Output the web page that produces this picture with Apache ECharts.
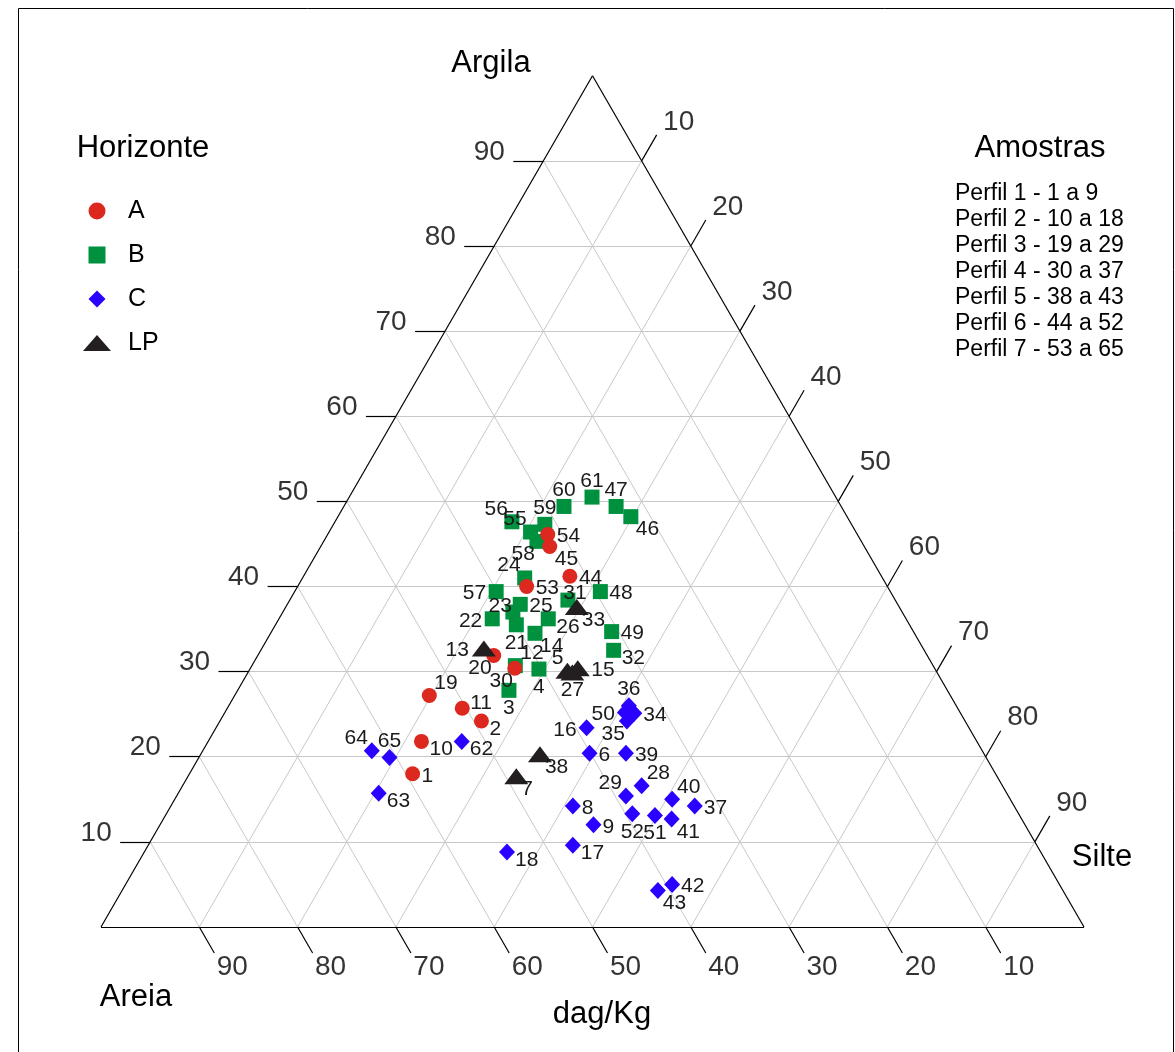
<!DOCTYPE html>
<html>
<head>
<meta charset="utf-8">
<title>Diagrama ternario</title>
<script src="https://cdn.jsdelivr.net/npm/echarts@6/dist/echarts.min.js"></script>
<style>
  html, body { margin: 0; padding: 0; background: #fff; }
  #main { width: 1175px; height: 1052px; }
</style>
</head>
<body>
<div id="main"></div>
<script>
var chartDom = document.getElementById('main');
var myChart = echarts.init(chartDom);

// Amostras (1 a 65) e horizonte de cada uma
var amostras = [];
for (var n = 1; n <= 65; n++) amostras.push(n);
var horizonte = ['A','A','B','B','LP','C','LP','C','C','A',
  'A','B','LP','B','LP','C','C','C','A','A',
  'B','B','B','B','B','B','LP','C','C','A',
  'B','B','LP','C','C','C','C','LP','C','C',
  'C','C','C','A','A','B','B','B','B','C',
  'C','C','A','A','B','B','B','B','B','B',
  'B','C','C','C','C'];

// Granulometria (dag/Kg)
var areia = [59.3,49.2,44.6,40.3,37.5,40.1,48.9,44.9,43.9,56.5,
  50.4,42.5,44.7,38.6,36.3,38.9,47.2,54.3,53.0,44.1,
  40.0,42.1,39.6,36.4,38.4,36.4,37.1,36.7,38.9,42.7,
  33.3,31.6,32.8,33.2,34.4,33.3,32.5,45.2,36.4,34.4,
  35.6,39.4,41.2,31.7,32.0,22.0,22.9,29.5,30.7,34.1,
  37.1,39.3,36.7,31.5,33.1,34.4,40.1,33.0,31.2,28.2,
  24.8,52.4,63.9,62.1,60.7];
var silte = [22.7,26.6,27.6,29.4,32.4,39.5,33.4,40.9,44.1,21.7,
  23.9,26.8,22.6,26.9,33.3,37.7,43.2,36.9,19.8,24.0,
  24.5,21.7,23.4,22.6,23.7,27.4,33.0,46.7,45.7,26.9,
  28.3,35.9,29.6,41.7,41.4,40.7,53.3,34.5,43.2,50.6,
  51.7,55.6,54.5,27.1,23.3,29.8,27.7,31.1,34.6,40.7,
  49.8,47.4,23.3,22.4,20.5,18.0,20.5,21.7,21.5,22.4,
  24.7,25.8,20.4,17.2,19.4];
var argila = [18.0,24.2,27.8,30.3,30.1,20.4,17.7,14.2,12.0,21.8,
  25.7,30.7,32.7,34.5,30.4,23.4,9.6,8.8,27.2,31.9,
  35.5,36.2,37.0,41.0,37.9,36.2,29.9,16.6,15.4,30.4,
  38.4,32.5,37.6,25.1,24.2,26.0,14.2,20.3,20.4,15.0,
  12.7,5.0,4.3,41.2,44.7,48.2,49.4,39.4,34.7,25.2,
  13.1,13.3,40.0,46.1,46.4,47.6,39.4,45.3,47.3,49.4,
  50.5,21.8,15.7,20.7,19.9];

// lado do numero de cada amostra
var rotulo = ['r','rb','b','b','tl','r','br','r','r','rb',
  'rt','tr','l','br','r','l','rb','rb','tr','bl',
  'b','l','lt','tl','r','rb','b','tr','tl','bl',
  'c','rb','br','r','bl','t','r','br','r','tr',
  'br','r','br','r','br','br','t','r','r','l',
  'b','b','r','r','tl','tl','l','bl','t','t',
  't','rb','rb','tl','t'];

var horizontes = ['A', 'B', 'C', 'LP'];
var marcas = [10, 20, 30, 40, 50, 60, 70, 80, 90];
var perfis = ['Perfil 1 - 1 a 9', 'Perfil 2 - 10 a 18', 'Perfil 3 - 19 a 29',
  'Perfil 4 - 30 a 37', 'Perfil 5 - 38 a 43', 'Perfil 6 - 44 a 52', 'Perfil 7 - 53 a 65'];

var fonte = '"Liberation Sans", Arial, sans-serif';
var R3 = Math.sqrt(3) / 2;
var escala = 9.83; // px por unidade

function ternario(a, s, c) {
  var t = a + s + c;
  return [(s + c / 2) * 100 / t, c * R3 * 100 / t];
}

var deslocamentos = {
  r:  { align: 'left',   d: [9, 2] },
  rb: { align: 'left',   d: [8, 8] },
  rt: { align: 'left',   d: [8, -5] },
  l:  { align: 'right',  d: [-10, 2] },
  lt: { align: 'right',  d: [-1, -6] },
  c:  { align: 'center', d: [7, -7] },
  t:  { align: 'center', d: [0, -16] },
  b:  { align: 'center', d: [0, 18] },
  tr: { align: 'left',   d: [5, -12] },
  tl: { align: 'right',  d: [-4, -13] },
  br: { align: 'left',   d: [5, 13] },
  bl: { align: 'right',  d: [-2, 13] }
};

var estilo = {
  A:  { symbol: 'circle',   size: 15,       color: '#dc281e' },
  B:  { symbol: 'rect',     size: 15,       color: '#00913f' },
  C:  { symbol: 'diamond',  size: [16, 17], color: '#2a00ff' },
  LP: { symbol: 'triangle', size: [24, 16], color: '#231f20' }
};

// linhas da grade, contorno e tracos
var grade = [], contorno = [], tracos = [], textosEixo = [];
var L = 30 / escala;
marcas.forEach(function (k) {
  grade.push({ coords: [ternario(100 - k, 0, k), ternario(0, 100 - k, k)] });
  grade.push({ coords: [ternario(100 - k, k, 0), ternario(0, k, 100 - k)] });
  grade.push({ coords: [ternario(k, 100 - k, 0), ternario(k, 0, 100 - k)] });

  var p = ternario(100 - k, 0, k);
  var e = [p[0] - L, p[1]];
  tracos.push({ coords: [p, e] });
  textosEixo.push({ value: e, label: { formatter: String(k), offset: [-24, -9] } });

  p = ternario(0, k, 100 - k);
  e = [p[0] + L * 0.5, p[1] + L * R3];
  tracos.push({ coords: [p, e] });
  textosEixo.push({ value: e, label: { formatter: String(k), offset: [22, -13] } });

  p = ternario(k, 100 - k, 0);
  e = [p[0] + L * 0.5, p[1] - L * R3];
  tracos.push({ coords: [p, e] });
  textosEixo.push({ value: e, label: { formatter: String(k), offset: [18, 14] } });
});
var vA = ternario(100, 0, 0), vS = ternario(0, 100, 0), vC = ternario(0, 0, 100);
contorno.push({ coords: [vA, vS] }, { coords: [vS, vC] }, { coords: [vC, vA] });

function serieHorizonte(h) {
  var dados = [];
  amostras.forEach(function (id, i) {
    if (horizonte[i] !== h) return;
    var xy = ternario(areia[i], silte[i], argila[i]);
    var cod = rotulo[i];
    var d = deslocamentos[cod];
    var f = (h === 'LP' && (cod === 'r' || cod === 'l' || cod === 'rb' || cod === 'rt')) ? 1.5 : 1;
    dados.push({
      value: [xy[0], xy[1], id],
      label: { align: d.align, offset: [d.d[0] * f, d.d[1]] }
    });
  });
  var st = estilo[h];
  return {
    name: h,
    type: 'scatter',
    symbol: st.symbol,
    symbolSize: st.size,
    itemStyle: { color: st.color, opacity: 1 },
    data: dados,
    z: 5,
    label: {
      show: true,
      position: 'inside',
      verticalAlign: 'middle',
      formatter: function (p) { return p.value[2]; },
      color: '#1a1a1a',
      fontSize: 21,
      fontFamily: fonte
    }
  };
}

var titulo = function (txt, x, y) {
  return { type: 'text', x: x, y: y, style: { text: txt, fontSize: 31, fontFamily: fonte, fill: '#000', align: 'center', verticalAlign: 'middle' } };
};

var option = {
  animation: false,
  grid: { left: 0, top: 0, right: 0, bottom: 0 },
  xAxis: { type: 'value', min: -101 / escala, max: (1175 - 101) / escala, show: false },
  yAxis: { type: 'value', min: -(1052 - 927) / escala, max: 927 / escala, show: false },
  legend: {
    orient: 'vertical',
    left: 83,
    top: 198,
    padding: 0,
    itemWidth: 28,
    itemHeight: 17,
    itemGap: 18,
    data: [
      { name: 'A', icon: 'circle' },
      { name: 'B', icon: 'path://M0,0h15v15h-15z' },
      { name: 'C', icon: 'path://M9,0L18,9L9,18L0,9Z' },
      { name: 'LP', icon: 'path://M0,16L14,0L28,16Z' }
    ],
    textStyle: { fontSize: 25, lineHeight: 26, color: '#000', fontFamily: fonte, padding: [0, 0, 0, 12] }
  },
  graphic: [
    { type: 'rect', shape: { x: 18.5, y: 8.5, width: 1155, height: 1100 },
      style: { fill: 'none', stroke: '#000', lineWidth: 1 }, silent: true },
    titulo('Argila', 491, 63),
    titulo('Horizonte', 143, 148),
    titulo('Amostras', 1040, 148),
    { type: 'text', x: 955, y: 181, style: { text: perfis.join('\n'), fontSize: 23, lineHeight: 26, fontFamily: fonte, fill: '#000', align: 'left', verticalAlign: 'top' } },
    titulo('Areia', 136, 997),
    titulo('Silte', 1102, 857),
    titulo('dag/Kg', 602, 1014)
  ],
  series: [
    {
      name: 'grade', type: 'lines', coordinateSystem: 'cartesian2d', silent: true, z: 1,
      lineStyle: { color: '#c8c8c8', width: 1, opacity: 1 }, data: grade
    },
    {
      name: 'contorno', type: 'lines', coordinateSystem: 'cartesian2d', silent: true, z: 2,
      lineStyle: { color: '#000', width: 1.2, opacity: 1 }, data: contorno.concat(tracos)
    },
    {
      name: 'eixos', type: 'scatter', silent: true, z: 2,
      symbolSize: 0.1, itemStyle: { color: 'transparent' },
      label: { show: true, position: 'inside', color: '#000', fontSize: 28, fontFamily: fonte },
      data: textosEixo
    },
    serieHorizonte('B'),
    serieHorizonte('C'),
    serieHorizonte('A'),
    serieHorizonte('LP')
  ]
};

myChart.setOption(option);
</script>
</body>
</html>
